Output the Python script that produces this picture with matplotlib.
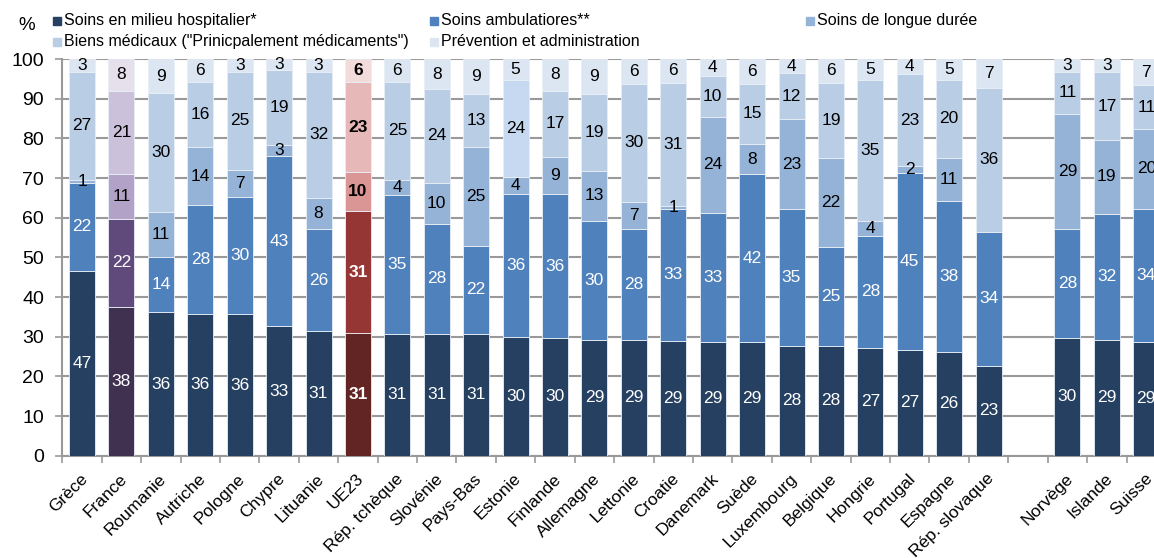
import matplotlib
matplotlib.use("Agg")
import matplotlib.pyplot as plt
from matplotlib.patches import Rectangle

plt.rcParams['font.family'] = ['Liberation Sans', 'DejaVu Sans']

categories = ["Grèce", "France", "Roumanie", "Autriche", "Pologne", "Chypre", "Lituanie",
              "UE23", "Rép. tchèque", "Slovénie", "Pays-Bas", "Estonie", "Finlande",
              "Allemagne", "Lettonie", "Croatie", "Danemark", "Suède", "Luxembourg",
              "Belgique", "Hongrie", "Portugal", "Espagne", "Rép. slovaque",
              "Norvège", "Islande", "Suisse"]

hospital = [46.6, 37.6, 36.1, 35.7, 35.6, 32.6, 31.4, 30.9, 30.8, 30.8, 30.8, 30.0, 29.6,
            29.2, 29.2, 29.0, 28.6, 28.6, 27.6, 27.7, 27.2, 26.7, 26.1, 22.7,
            29.6, 29.2, 28.7]
ambulatory = [22.2, 22.1, 13.9, 27.6, 29.7, 42.9, 25.7, 30.8, 35.0, 27.7, 22.1, 36.0, 36.4,
              30.0, 27.9, 33.2, 32.7, 42.3, 34.6, 25.0, 28.3, 44.6, 38.2, 33.8,
              27.6, 31.8, 33.6]
long_term = [0.8, 11.3, 11.4, 14.4, 6.8, 2.7, 7.9, 9.8, 3.8, 10.3, 25.0, 4.3, 9.4,
             12.6, 6.8, 0.8, 24.2, 7.7, 22.6, 22.4, 3.7, 1.8, 10.8, 0.0,
             29.0, 18.6, 20.1]
medical_goods = [27.1, 21.0, 30.0, 16.4, 24.7, 19.1, 31.7, 22.7, 24.6, 23.6, 13.4, 24.4, 16.6,
                 19.4, 29.9, 31.0, 10.1, 15.2, 11.6, 18.9, 35.4, 23.0, 19.7, 36.1,
                 10.6, 17.0, 11.0]
prevention = [3.3, 8.0, 8.6, 5.9, 3.2, 2.7, 3.3, 5.8, 5.8, 7.6, 8.7, 5.3, 8.0,
              8.8, 6.2, 6.0, 4.4, 6.2, 3.6, 6.0, 5.4, 3.9, 5.2, 7.4,
              3.2, 3.4, 6.6]

series_names = ["Soins en milieu hospitalier*", "Soins ambulatiores**", "Soins de longue durée",
                'Biens médicaux ("Prinicpalement médicaments")', "Prévention et administration"]
series = [hospital, ambulatory, long_term, medical_goods, prevention]

blue_pal = ["#264061", "#4F81BD", "#95B3D7", "#B9CDE5", "#DCE6F2"]
purple_pal = ["#403151", "#604A7B", "#B3A2C7", "#CCC1DA", "#E5E0EC"]
red_pal = ["#632523", "#963634", "#DA9694", "#E6B8B7", "#F2DCDB"]
label_colors = ["white", "white", "black", "black", "black"]

gap_after = 23  # empty slot between Rép. slovaque and Norvège

fig = plt.figure(figsize=(11.54, 5.58), dpi=100)
ax = fig.add_axes([62.3 / 1154, 1 - 455.7 / 558, 1103.7 / 1154, (455.7 - 59) / 558])

positions = [i + (1 if i > gap_after else 0) for i in range(len(categories))]
width = 0.66

for i, cat in enumerate(categories):
    x = positions[i]
    if cat == "France":
        pal = purple_pal
    elif cat == "UE23":
        pal = red_pal
    else:
        pal = list(blue_pal)
        if cat == "Estonie":
            pal[3] = "#C6D9F1"
    bottom = 0.0
    for s, vals in enumerate(series):
        v = vals[i]
        if v > 0:
            ax.bar(x, v, width, bottom=bottom, color=pal[s], edgecolor="#E8EEF6",
                   linewidth=0.6, zorder=3)
            ax.text(x, bottom + v / 2, f"{round(v):d}", ha="center", va="center",
                    fontsize=12.5, color=label_colors[s],
                    fontweight="bold" if cat == "UE23" else "normal", zorder=4)
        bottom += v

ax.set_ylim(0, 100)
ax.set_xlim(-0.5, len(categories) + 0.5)
ax.set_yticks(range(0, 101, 10))
ax.tick_params(axis="y", labelsize=14, length=5, width=1.2, color="#999999", pad=8)
ax.yaxis.grid(True, color="#999999", linewidth=1.5, zorder=0)
ax.set_axisbelow(True)

ax.set_xticks(positions)
ax.set_xticklabels(categories, rotation=45, ha="right", va="top", rotation_mode="anchor",
                   fontsize=12.5)
ax.tick_params(axis="x", length=0, pad=11)
ax.set_xticks([p - 0.5 for p in range(len(categories) + 2)], minor=True)
ax.tick_params(axis="x", which="minor", length=5, width=1.2, color="#999999")
for lbl in ax.get_xticklabels():
    lbl.set_transform(lbl.get_transform() + matplotlib.transforms.ScaledTranslation(-2 / 100, 0, fig.dpi_scale_trans))

for side in ["top", "right"]:
    ax.spines[side].set_visible(False)
for side in ["left", "bottom"]:
    ax.spines[side].set_color("#999999")
    ax.spines[side].set_linewidth(1.5)

# legend (manual, row-major)
legend_pos = [(53, 20.7), (430, 20.7), (806, 20.7), (53, 41.7), (430, 41.7)]
for s, (px, py) in enumerate(legend_pos):
    fig.patches.append(Rectangle((px / 1154, 1 - (py + 4) / 558), 8 / 1154, 8 / 558,
                                 transform=fig.transFigure, color=blue_pal[s]))
    fig.text((px + 11) / 1154, 1 - py / 558, series_names[s], ha="left", va="center",
             fontsize=11.5)

fig.text(27 / 1154, 1 - 26 / 558, "%", ha="center", va="center", fontsize=13.5)

fig.savefig("out.png", dpi=100)
